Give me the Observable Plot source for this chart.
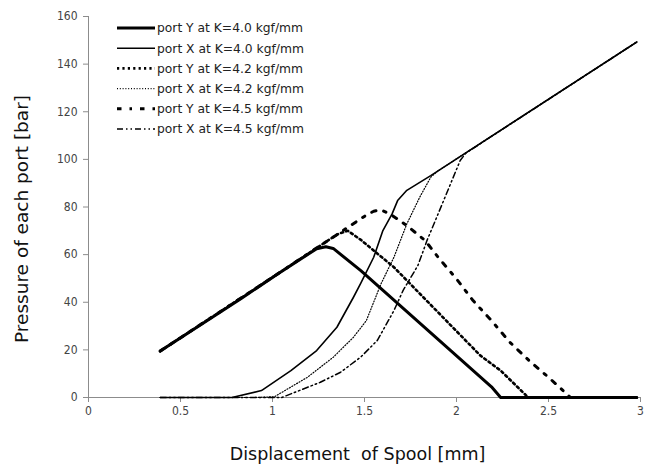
<!DOCTYPE html>
<html>
<head>
<meta charset="utf-8">
<script src="https://cdn.jsdelivr.net/npm/d3@7"></script>
<script src="https://cdn.jsdelivr.net/npm/@observablehq/plot@0.6"></script>
<style>
  html, body { margin: 0; padding: 0; background: #fff; }
  #chart { position: relative; width: 661px; height: 469px; }
  #chart svg { display: block; }
  #legend { position: absolute; left: 0; top: 0; pointer-events: none; }
</style>
</head>
<body>
<div id="chart"></div>
<script>
// Spool displacement [mm] vs. port pressure [bar] for three spring rates K.
const seriesNames = [
  "port Y at K=4.0 kgf/mm",
  "port X at K=4.0 kgf/mm",
  "port Y at K=4.2 kgf/mm",
  "port X at K=4.2 kgf/mm",
  "port Y at K=4.5 kgf/mm",
  "port X at K=4.5 kgf/mm"
];

const yK40_x = [0.39, 0.83, 1.03, 1.24, 1.29, 1.33, 1.48, 2.19, 2.24, 2.98];
const yK40_y = [19.5, 41.6, 52, 62.5, 63.3, 62.6, 53.3, 4.5, 0, 0];

const xK40_x = [0.39, 0.78, 0.94, 1.1, 1.24, 1.35, 1.44, 1.48, 1.55, 1.6, 1.65, 1.68, 1.73, 1.86, 2.98];
const xK40_y = [0, 0, 2.9, 11.3, 19.7, 29.5, 42.1, 48, 58.9, 70.1, 77.1, 82.7, 87, 93.2, 149.3];

const yK42_x = [0.39, 1.03, 1.31, 1.36, 1.41, 1.48, 1.66, 2.13, 2.24, 2.39, 2.98];
const yK42_y = [19.5, 52, 66.4, 68.8, 70, 66.2, 54.7, 17.6, 11.3, 0, 0];

const xK42_x = [0.39, 0.9, 1.01, 1.19, 1.33, 1.44, 1.51, 1.59, 1.66, 1.73, 1.8, 1.86, 1.9, 2.98];
const xK42_y = [0, 0, 0.3, 8.5, 16.9, 25.3, 32.3, 47.8, 58.9, 72.9, 84.1, 92.5, 95.2, 149.3];

const yK45_x = [0.39, 1.03, 1.51, 1.55, 1.59, 1.64, 1.73, 1.83, 1.9, 2.0, 2.09, 2.19, 2.29, 2.4, 2.51, 2.62, 2.98];
const yK45_y = [19.5, 52, 76.6, 78.2, 78.8, 77, 72.2, 65.9, 58.9, 49.8, 40.7, 32.3, 23.2, 15.1, 7.8, 0, 0];

const xK45_x = [0.39, 1.05, 1.26, 1.37, 1.48, 1.57, 1.66, 1.71, 1.79, 1.84, 1.9, 1.96, 2.02, 2.05, 2.98];
const xK45_y = [0, 0, 6.4, 10.6, 17, 24, 36.5, 45, 55.4, 66, 77.1, 88.3, 99.5, 102.6, 149.3];

const xTicks = [0, 0.5, 1, 1.5, 2, 2.5, 3];
const yTicks = [0, 20, 40, 60, 80, 100, 120, 140, 160];

// line styles per series: [strokeWidth, dash pattern]
const lineStyles = [
  [3, null],
  [1.6, null],
  [2.6, "2.2,3.2"],
  [1.2, "1,1.8"],
  [3, "4.5,8,2.5,8"],
  [1.5, "6,3,1.5,3,1.5,3"]
];

const seriesX = [yK40_x, xK40_x, yK42_x, xK42_x, yK45_x, xK45_x];
const seriesY = [yK40_y, xK40_y, yK42_y, xK42_y, yK45_y, xK45_y];

const tables = seriesNames.map((name, i) =>
  seriesX[i].map((x, j) => ({series: name, x, y: seriesY[i][j]}))
);

const tickFont = "'Liberation Sans Narrow', 'DejaVu Sans Condensed', sans-serif";
const titleFont = "'DejaVu Sans', 'Noto Sans', sans-serif";

const lineMarks = tables.map((rows, i) =>
  Plot.line(rows, {
    x: "x", y: "y",
    stroke: "#000",
    strokeWidth: lineStyles[i][0],
    strokeDasharray: lineStyles[i][1] || undefined,
    strokeLinejoin: "round"
  })
).reverse();

const chart = Plot.plot({
  width: 661,
  height: 469,
  marginLeft: 88,
  marginRight: 21,
  marginTop: 16,
  marginBottom: 72,
  style: {background: "#fff", fontFamily: tickFont},
  x: {domain: [0, 3]},
  y: {domain: [0, 160]},
  marks: [
    Plot.ruleX([0], {stroke: "#8c8c8c"}),
    Plot.ruleY([0], {stroke: "#8c8c8c"}),
    Plot.axisX({
      ticks: xTicks, tickFormat: d => String(d), tickSize: 5, tickPadding: 4,
      stroke: "#8c8c8c", fill: "#444", fontSize: 12, label: null
    }),
    Plot.axisY({
      ticks: yTicks, tickFormat: d => String(d), tickSize: 5, tickPadding: 6,
      stroke: "#8c8c8c", fill: "#444", fontSize: 12, label: null
    }),
    ...lineMarks,
    Plot.text(["Displacement\u00a0 of Spool [mm]"], {
      frameAnchor: "bottom", dx: -7, dy: 62, fontSize: 17.5, fill: "#111",
      fontFamily: titleFont
    }),
    Plot.text(["Pressure of each port [bar]"], {
      frameAnchor: "left", dx: -66, dy: 12, rotate: -90, textAnchor: "middle",
      fontSize: 18.5, fill: "#111", fontFamily: titleFont
    })
  ]
});

const root = document.getElementById("chart");
root.appendChild(chart);

// Legend drawn as an overlay in the upper left of the plot area.
const legend = d3.select(root).append("svg")
  .attr("id", "legend")
  .attr("width", 661).attr("height", 469);

const rowTop = 28, rowStep = 20.2;
seriesNames.forEach((name, i) => {
  const yy = rowTop + i * rowStep;
  legend.append("line")
    .attr("x1", 117).attr("x2", 155)
    .attr("y1", yy).attr("y2", yy)
    .attr("stroke", "#000")
    .attr("stroke-width", lineStyles[i][0])
    .attr("stroke-dasharray", lineStyles[i][1]);
  legend.append("text")
    .attr("x", 157).attr("y", yy)
    .attr("dy", "0.35em")
    .attr("font-family", titleFont)
    .attr("font-size", 12.3)
    .attr("fill", "#222")
    .text(name);
});
</script>
</body>
</html>
